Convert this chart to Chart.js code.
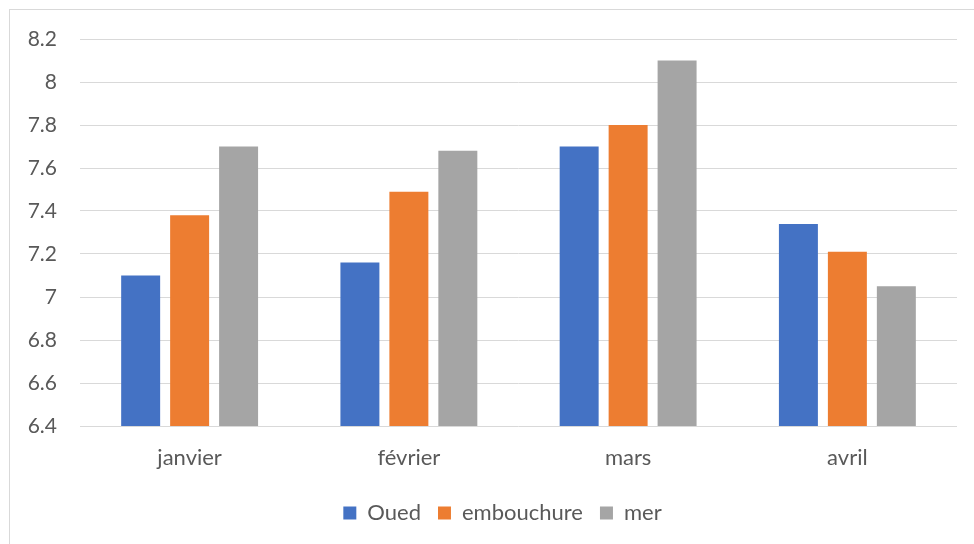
<!DOCTYPE html>
<html>
<head>
<meta charset="utf-8">
<script src="https://cdn.jsdelivr.net/npm/chart.js@4/dist/chart.umd.min.js"></script>
<style>
  html, body { margin: 0; padding: 0; background: #fff; }
  #wrap { position: relative; width: 974px; height: 544px; overflow: hidden; }
  #frame { position: absolute; left: 9px; top: 9px; width: 1000px; height: 600px; border: 1px solid #d9d9d9; box-sizing: border-box; }
  canvas { position: absolute; left: 0; top: 0; }
</style>
</head>
<body>
<div id="wrap">
  <div id="frame"></div>
  <canvas id="c" width="974" height="544"></canvas>
</div>
<script>
const categories = ["janvier", "février", "mars", "avril"];
const oued = [7.10, 7.16, 7.70, 7.34];
const embouchure = [7.38, 7.49, 7.80, 7.21];
const mer = [7.70, 7.68, 8.10, 7.05];
const seriesNames = ["Oued", "embouchure", "mer"];
const seriesColors = ["#4472C4", "#ED7D31", "#A5A5A5"];
const yMin = 6.4, yMax = 8.2, yStep = 0.2;

const fontFamily = "Lato, 'Open Sans', sans-serif";
const textColor = "#595959";
const fontSize = 22;

const shiftLegend = {
  id: "shiftLegend",
  afterLayout(chart) {
    const lg = chart.legend;
    if (lg) { lg.left += 24; lg.right += 24; }
  }
};

new Chart(document.getElementById("c"), {
  type: "bar",
  data: {
    labels: categories,
    datasets: [oued, embouchure, mer].map((d, i) => ({
      label: seriesNames[i],
      data: d,
      backgroundColor: seriesColors[i],
      borderWidth: 0,
      categoryPercentage: 0.67,
      barPercentage: 0.796
    }))
  },
  plugins: [shiftLegend],
  options: {
    responsive: false,
    animation: false,
    layout: { padding: { top: 39, right: 17, left: 0, bottom: 10 } },
    plugins: {
      legend: {
        position: "bottom",
        labels: {
          color: textColor,
          font: { family: fontFamily, size: fontSize },
          boxWidth: 13,
          boxHeight: 13,
          padding: 17
        }
      },
      tooltip: { enabled: false }
    },
    scales: {
      x: {
        grid: { display: false, drawTicks: false },
        border: { display: false },
        ticks: { color: textColor, font: { family: fontFamily, size: fontSize }, padding: 19 },
        afterFit: (s) => { s.height = 59; }
      },
      y: {
        min: yMin, max: yMax,
        grid: { color: "#d9d9d9", lineWidth: 1, drawTicks: false },
        border: { display: false },
        ticks: {
          stepSize: yStep,
          color: textColor,
          font: { family: fontFamily, size: 21 },
          padding: 23,
          callback: (v) => parseFloat(v.toFixed(1)).toString()
        },
        afterFit: (s) => { s.width = 80; }
      }
    }
  }
});
</script>
</body>
</html>
